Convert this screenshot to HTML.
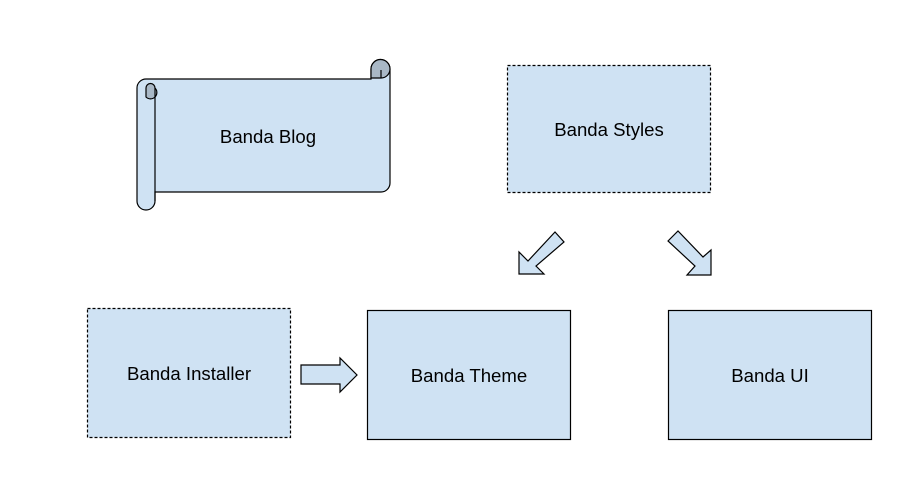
<!DOCTYPE html>
<html><head><style>body{margin:0;background:#fff}</style></head><body>
<svg width="917" height="493" xmlns="http://www.w3.org/2000/svg" font-family="Liberation Sans, sans-serif" font-size="18.6" text-anchor="middle">
<rect width="917" height="493" fill="#fff"/>
<g fill="#cfe2f3" stroke="#000" stroke-width="1.2">
<path d="M146,79 H371 V69 A9,9 0 0 1 390,69 V183 A9,9 0 0 1 381,192 H155 V201 A9,9 0 0 1 137,201 V88 A9,9 0 0 1 146,79 Z"/>
<path d="M371,69 A9,9 0 0 1 390,69 A9,9 0 0 1 381,78 H371 Z" fill="#a9b8c6"/>
<path d="M146,97 V88 A4.5,4.5 0 0 1 155,88 A4.5,4.5 0 0 1 146,97 Z" fill="#a9b8c6"/>
<line x1="155" y1="88" x2="155" y2="201"/>
<line x1="381" y1="78" x2="381" y2="70"/>
<rect x="507.5" y="65.5" width="203" height="127" stroke-dasharray="3,2"/>
<rect x="87.5" y="308.5" width="203" height="129" stroke-dasharray="3,2"/>
<rect x="367.5" y="310.5" width="203" height="129"/>
<rect x="668.5" y="310.5" width="203" height="129"/>
<polygon points="301,365 340,365 340,358 357,375 340,392 340,384 301,384"/>
<polygon points="519,274 519,252 528,261 555,232 564,242 536,266 544,274"/>
<polygon points="668,241 678,231 703,257 711,250 711,275 687,275 695,266"/>
</g>
<g fill="#000">
<text x="268" y="143">Banda Blog</text>
<text x="609" y="136">Banda Styles</text>
<text x="189" y="380">Banda Installer</text>
<text x="469" y="382">Banda Theme</text>
<text x="770" y="382">Banda UI</text>
</g>
</svg>
</body></html>
